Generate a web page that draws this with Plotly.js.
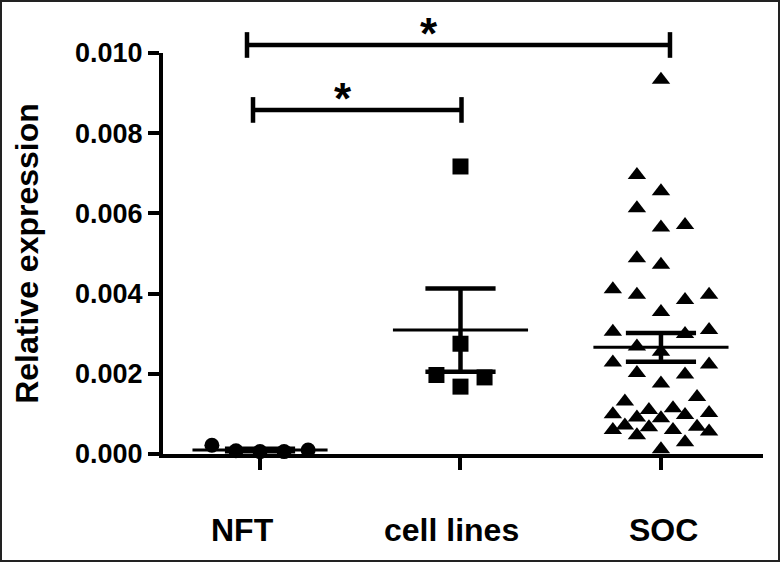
<!DOCTYPE html>
<html><head><meta charset="utf-8">
<script src="https://cdn.plot.ly/plotly-3.0.1.min.js"></script>
<style>
html,body{margin:0;padding:0;background:#fff;}
#frame{width:776px;height:558px;border:2px solid #222;overflow:hidden;}
#chart{width:776px;height:558px;}
</style>
</head><body>
<div id="frame"><div id="chart"></div></div>
<script>
// ---- data ----
const categories = ['NFT', 'cell lines', 'SOC'];
const yTickValues = [0, 0.002, 0.004, 0.006, 0.008, 0.010];

const nftValues = [0.00022, 0.00008, 0.00006, 0.00006, 0.00010];
const nftJitter = [-4, -2, 0, 2, 4];

const cellValues = [0.00717, 0.00275, 0.00197, 0.00191, 0.00168];
const cellJitter = [0, 0, -2, 2, 0];

const socValues = [0.00933, 0.00696, 0.00655, 0.00613, 0.00565, 0.00571,
  0.00488, 0.00472, 0.00411, 0.00397, 0.00384, 0.00397, 0.00354,
  0.00305, 0.00299, 0.00309, 0.00268, 0.00255, 0.00228, 0.00223, 0.00202, 0.00198, 0.00176,
  0.00142, 0.00131,
  0.00099, 0.00110, 0.00114, 0.00097, 0.00102, 0.00091, 0.00089,
  0.00060, 0.00071, 0.00067, 0.00060, 0.00068, 0.00056, 0.00047, 0.00029, 0.00012];
const socJitter = [0, -2, 0, -2, 0, 2,
  -2, 0, -4, -2, 2, 4, 0,
  -4, 2, 4, -2, 0, -4, 4, -2, 2, 0,
  3, -3,
  -4, -1, 1, 2, 4, -2, 0,
  -4, -3, -1, 1, 3, 4, -2, 2, 0];

const groupMeans = [0.00010, 0.00309, 0.00266];
const groupSems = [0.00003, 0.00104, 0.00036];

const bracketFrom = [0, 0];
const bracketTo = [2, 1];
const bracketLevel = [0.0102, 0.00858];
const bracketLabel = ['*', '*'];

// ---- styling / layout ----
const FONT = 'Liberation Sans, Arial, Helvetica, sans-serif';
const slotW = 0.06;
const meanHalf = 0.337, capHalf = 0.175;
const yMax = 0.010;
const bracketInsetL = [-0.065, -0.035];
const bracketInsetR = [0.045, 0.005];
const bracketTick = 0.00032;
const labelShift = [-18, -9, 3];

function pts(idx, vals, jit) {
  return { x: vals.map((v, i) => idx + jit[i] * slotW), y: vals };
}
const groups = [
  { p: pts(0, nftValues, nftJitter), sym: 'circle', size: 15 },
  { p: pts(1, cellValues, cellJitter), sym: 'square', size: 16 },
  { p: pts(2, socValues, socJitter), sym: 'triangle-up', size: 16 }
];

const traces = groups.map(g => ({
  type: 'scatter', mode: 'markers', x: g.p.x, y: g.p.y, cliponaxis: false,
  marker: { symbol: g.sym, size: g.size, color: '#000', line: { width: 0 } },
  hoverinfo: 'skip', showlegend: false
}));

// mean lines
const mx = [], my = [];
groupMeans.forEach((m, i) => { mx.push(i - meanHalf, i + meanHalf, null); my.push(m, m, null); });
traces.push({ type: 'scatter', mode: 'lines', x: mx, y: my, cliponaxis: false,
  line: { color: '#000', width: 3 }, hoverinfo: 'skip', showlegend: false });

// SEM bars
const sx = [], sy = [];
groupMeans.forEach((m, i) => {
  const s = groupSems[i];
  sx.push(i, i, null); sy.push(m - s, m + s, null);
  sx.push(i - capHalf, i + capHalf, null); sy.push(m + s, m + s, null);
  sx.push(i - capHalf, i + capHalf, null); sy.push(m - s, m - s, null);
});
traces.push({ type: 'scatter', mode: 'lines', x: sx, y: sy, cliponaxis: false,
  line: { color: '#000', width: 4.5 }, hoverinfo: 'skip', showlegend: false });

const shapes = [], annotations = [];
bracketFrom.forEach((f, i) => {
  const x0 = f + bracketInsetL[i], x1 = bracketTo[i] + bracketInsetR[i];
  const yp = bracketLevel[i] / yMax, th = bracketTick / yMax;
  const ln = { color: '#000', width: 4.5 };
  shapes.push({ type: 'line', xref: 'x', yref: 'paper', x0: x0, x1: x1, y0: yp, y1: yp, line: ln });
  shapes.push({ type: 'line', xref: 'x', yref: 'paper', x0: x0, x1: x0, y0: yp - th, y1: yp + th, line: ln });
  shapes.push({ type: 'line', xref: 'x', yref: 'paper', x0: x1, x1: x1, y0: yp - th, y1: yp + th, line: ln });
  annotations.push({ xref: 'x', yref: 'paper', x: x0 + (x1 - x0) * 0.43, y: yp,
    text: bracketLabel[i], showarrow: false, yanchor: 'bottom', yshift: -15,
    font: { family: FONT, size: 44, color: '#000', weight: 'bold' } });
});

// category labels under the x axis
categories.forEach((c, i) => {
  annotations.push({ xref: 'x', yref: 'paper', x: i, y: 0, text: c, showarrow: false,
    yanchor: 'middle', yshift: -76, xshift: labelShift[i],
    font: { family: FONT, size: 32, color: '#000', weight: 'bold' } });
});

const layout = {
  width: 776, height: 558,
  margin: { l: 161, r: 15, t: 51.3, b: 106 },
  paper_bgcolor: '#fff', plot_bgcolor: '#fff',
  showlegend: false,
  xaxis: {
    range: [-0.484, 2.509], tickvals: [0, 1, 2], ticktext: categories,
    showticklabels: false,
    showgrid: false, zeroline: false, showline: true, linecolor: '#000', linewidth: 4,
    ticks: 'outside', ticklen: 12, tickwidth: 4, tickcolor: '#000'
  },
  yaxis: {
    range: [0, yMax], tickvals: yTickValues, tickformat: '.3f',
    showgrid: false, zeroline: false, showline: true, linecolor: '#000', linewidth: 4,
    ticks: 'outside', ticklen: 11, tickwidth: 4, tickcolor: '#000',
    tickfont: { family: FONT, size: 27, color: '#000', weight: 'bold' },
    title: { text: 'Relative expression', standoff: 28,
      font: { family: FONT, size: 32, color: '#000', weight: 'bold' } }
  },
  shapes: shapes, annotations: annotations
};

Plotly.newPlot('chart', traces, layout, { staticPlot: true, displayModeBar: false });
</script>
</body></html>
